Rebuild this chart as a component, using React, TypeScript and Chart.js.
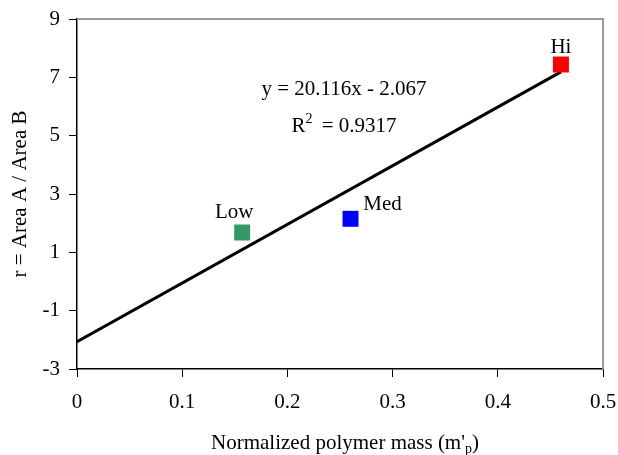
import React, { useEffect, useRef } from "react";
import { Chart, registerables } from "chart.js";

Chart.register(...registerables);

const categories = ["Low", "Med", "Hi"];
const xValues = [0.157, 0.26, 0.46];
const yValues = [1.68, 2.15, 7.44];
const pointColors = ["#339966", "#0000FF", "#FF0000"];
const slope = 20.116;
const intercept = -2.067;
const rSquared = 0.9317;
const xTicks = [0, 0.1, 0.2, 0.3, 0.4, 0.5];
const yTicks = [-3, -1, 1, 3, 5, 7, 9];

const FONT = "'Liberation Serif', 'Times New Roman', serif";

const textPlugin = {
  id: "textPlugin",
  beforeDatasetsDraw(chart: any) {
    const { ctx, chartArea } = chart;
    ctx.save();
    ctx.strokeStyle = "#9a9a9a";
    ctx.lineWidth = 2;
    ctx.beginPath();
    ctx.moveTo(chartArea.left, chartArea.top);
    ctx.lineTo(chartArea.right, chartArea.top);
    ctx.lineTo(chartArea.right, chartArea.bottom);
    ctx.stroke();
    ctx.restore();
  },
  afterDraw(chart: any) {
    const { ctx, chartArea } = chart;
    const xs = chart.scales.x;
    const ys = chart.scales.y;
    ctx.save();
    ctx.fillStyle = "#000";
    ctx.font = `21px ${FONT}`;
    ctx.textAlign = "center";
    ctx.textBaseline = "alphabetic";
    const offsets = [
      [-8, -15],
      [32, -9],
      [0, -12],
    ];
    categories.forEach((c, i) => {
      const px = xs.getPixelForValue(xValues[i]) + offsets[i][0];
      const py = ys.getPixelForValue(yValues[i]) + offsets[i][1];
      ctx.fillText(c, px, py);
    });

    // equation
    const eqX = chartArea.left + 267;
    const sign = intercept < 0 ? "-" : "+";
    ctx.fillText(`y = ${slope}x ${sign} ${Math.abs(intercept)}`, eqX, 95);

    // R^2
    const big = `21px ${FONT}`;
    const small = `14px ${FONT}`;
    const partR = "R";
    const partRest = ` = ${rSquared}`;
    ctx.font = big;
    const wR = ctx.measureText(partR).width;
    const wRest = ctx.measureText(partRest).width;
    ctx.font = small;
    const w2 = ctx.measureText("2").width;
    const total = wR + w2 + wRest + 4;
    let sx = eqX - total / 2;
    ctx.textAlign = "left";
    ctx.font = big;
    ctx.fillText(partR, sx, 132);
    sx += wR;
    ctx.font = small;
    ctx.fillText("2", sx, 123);
    sx += w2 + 4;
    ctx.font = big;
    ctx.fillText(partRest, sx, 132);

    // x title with subscript
    const t1 = "Normalized polymer mass (m'";
    const t2 = "p";
    const t3 = ")";
    ctx.font = big;
    const w1 = ctx.measureText(t1).width;
    const w3 = ctx.measureText(t3).width;
    ctx.font = small;
    const wp = ctx.measureText(t2).width;
    const tot = w1 + wp + w3;
    let tx = (chartArea.left + chartArea.right) / 2 + 5 - tot / 2;
    ctx.font = big;
    ctx.fillText(t1, tx, 449);
    tx += w1;
    ctx.font = small;
    ctx.fillText(t2, tx, 453);
    tx += wp;
    ctx.font = big;
    ctx.fillText(t3, tx, 449);

    // y title
    ctx.translate(20, (chartArea.top + chartArea.bottom) / 2);
    ctx.rotate(-Math.PI / 2);
    ctx.textAlign = "center";
    ctx.textBaseline = "middle";
    ctx.font = big;
    ctx.fillText("r = Area A / Area B", 0, 0);
    ctx.restore();
  },
};

export default function App() {
  const ref = useRef<HTMLCanvasElement | null>(null);
  useEffect(() => {
    document.body.style.margin = "0";
    if (!ref.current) return;
    const xEnd = Math.max(...xValues);
    const trend = [
      { x: 0, y: intercept },
      { x: xEnd, y: slope * xEnd + intercept },
    ];
    const chart = new Chart(ref.current, {
      type: "scatter",
      data: {
        datasets: [
          {
            type: "line",
            data: trend,
            borderColor: "#000",
            borderWidth: 3,
            pointRadius: 0,
            fill: false,
            order: 2,
          } as any,
          {
            type: "scatter",
            data: xValues.map((x, i) => ({ x, y: yValues[i] })),
            pointStyle: "rect",
            pointRadius: 11.3,
            pointHoverRadius: 11.3,
            backgroundColor: pointColors,
            borderColor: pointColors,
            borderWidth: 0,
            order: 1,
          } as any,
        ],
      },
      options: {
        responsive: false,
        animation: false,
        layout: { padding: { left: 0, top: 19, right: 15, bottom: 0 } },
        plugins: {
          legend: { display: false },
          tooltip: { enabled: false },
        },
        scales: {
          x: {
            type: "linear",
            min: 0,
            max: 0.5,
            afterBuildTicks: (s: any) => {
              s.ticks = xTicks.map((v) => ({ value: v }));
            },
            afterFit: (s: any) => {
              s.height = 86;
              s.paddingLeft = 0;
              s.paddingRight = 0;
            },
            ticks: {
              font: { family: FONT, size: 21 },
              color: "#000",
              padding: 13,
              maxRotation: 0,
              autoSkip: false,
              callback: (v: any) => String(Math.round(Number(v) * 10) / 10),
            },
            grid: {
              drawOnChartArea: false,
              drawTicks: true,
              tickLength: 8,
              color: "#000",
            },
            border: { color: "#000", width: 1.5 },
          },
          y: {
            type: "linear",
            min: -3,
            max: 9,
            afterBuildTicks: (s: any) => {
              s.ticks = yTicks.map((v) => ({ value: v }));
            },
            afterFit: (s: any) => {
              s.width = 77;
              s.paddingTop = 0;
              s.paddingBottom = 0;
            },
            ticks: {
              font: { family: FONT, size: 21 },
              color: "#000",
              padding: 9,
              autoSkip: false,
              callback: (v: any) => String(v),
            },
            grid: {
              drawOnChartArea: false,
              drawTicks: true,
              tickLength: 8,
              color: "#000",
            },
            border: { color: "#000", width: 1.5 },
          },
        },
      },
      plugins: [textPlugin],
    });
    return () => chart.destroy();
  }, []);
  return (
    <div style={{ width: 618, height: 455 }}>
      <canvas ref={ref} width={618} height={455} style={{ display: "block" }} />
    </div>
  );
}
